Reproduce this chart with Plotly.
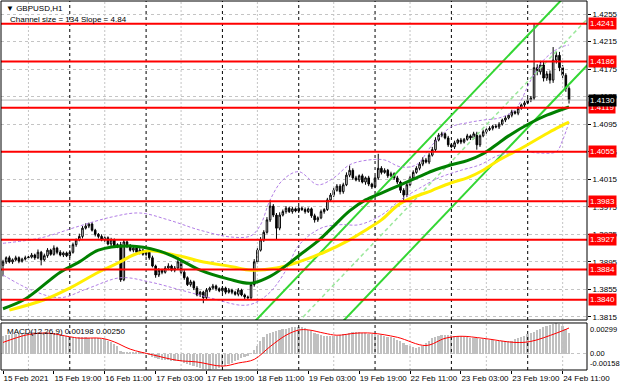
import pandas as pd
import plotly.graph_objects as go

# ---------------- data ----------------
symbol_title = "\u25bc GBPUSD,H1"
channel_text = "Channel size = 134 Slope = 4.84"
macd_title = "MACD(12,26,9) 0.00198 0.00250"

trading_days = ["2021-02-15", "2021-02-16", "2021-02-17", "2021-02-18", "2021-02-19",
                "2021-02-22", "2021-02-23", "2021-02-24"]
first_bar = "2021-02-15 03:00"
last_bar = "2021-02-24 13:00"

first_open = 1.3890
close = [
    1.3895, 1.3901, 1.3895, 1.3898, 1.3901, 1.3896, 1.3899, 1.3901, 1.3902, 1.3905,
    1.3901, 1.3909, 1.3898, 1.3904, 1.3912, 1.3906, 1.3915, 1.3909, 1.3905, 1.3908,
    1.3904, 1.3909, 1.3920, 1.3927, 1.3932, 1.3944, 1.3947, 1.3950, 1.3941, 1.3935,
    1.3932, 1.3927, 1.3930, 1.3921, 1.3927, 1.3918, 1.3920, 1.3869, 1.3924, 1.3918,
    1.3912, 1.3915, 1.3909, 1.3912, 1.3906, 1.3909, 1.3901, 1.3889, 1.3876, 1.3883,
    1.3880, 1.3886, 1.3889, 1.3883, 1.3886, 1.3895, 1.3880, 1.3872, 1.3862, 1.3866,
    1.3857, 1.3847, 1.3851, 1.3843, 1.3854, 1.3857, 1.3860, 1.3856, 1.3853, 1.3857,
    1.3851, 1.3854, 1.3851, 1.3848, 1.3854, 1.3847, 1.3844, 1.3843, 1.3862, 1.3895,
    1.3912, 1.3927, 1.3938, 1.3956, 1.3976, 1.3963, 1.3944, 1.3963, 1.3968, 1.3973,
    1.3968, 1.3972, 1.3969, 1.3973, 1.3971, 1.3968, 1.3972, 1.3962, 1.3956, 1.3959,
    1.3968, 1.3971, 1.3985, 1.3992, 1.3999, 1.4005, 1.3997, 1.4007, 1.4021, 1.4028,
    1.4017, 1.4014, 1.4020, 1.4011, 1.4017, 1.4008, 1.4004, 1.4017, 1.4031, 1.4025,
    1.4028, 1.4020, 1.4023, 1.4017, 1.4011, 1.3999, 1.3992, 1.4007, 1.4017, 1.4025,
    1.4031, 1.4037, 1.4043, 1.4040, 1.4050, 1.4058, 1.4072, 1.4079, 1.4081, 1.4075,
    1.4065, 1.4062, 1.4068, 1.4072, 1.4069, 1.4073, 1.4078, 1.4075, 1.4081, 1.4065,
    1.4078, 1.4084, 1.4087, 1.4089, 1.4092, 1.4091, 1.4095, 1.4101, 1.4104, 1.4108,
    1.4113, 1.4111, 1.4118, 1.4123, 1.4126, 1.4130, 1.4133, 1.4177, 1.4171, 1.4181,
    1.4162, 1.4168, 1.4159, 1.4188, 1.4195, 1.4177, 1.4166, 1.4147, 1.4130,
]
# wick lengths in pips beyond the candle body
upper_wick_pips = [
    3, 2, 3, 2, 3, 2, 2, 3, 2, 3,
    2, 4, 2, 3, 3, 2, 4, 2, 3, 2,
    2, 3, 3, 2, 4, 3, 4, 2, 3, 2,
    2, 3, 2, 2, 3, 2, 2, 4, 3, 2,
    3, 2, 2, 3, 2, 3, 2, 3, 2, 3,
    2, 3, 4, 2, 3, 7, 2, 3, 2, 3,
    2, 3, 2, 2, 3, 2, 3, 2, 2, 3,
    2, 3, 2, 2, 3, 2, 2, 2, 3, 4,
    3, 4, 3, 4, 9, 3, 3, 4, 3, 3,
    2, 3, 2, 3, 2, 3, 2, 2, 3, 2,
    3, 2, 3, 3, 4, 3, 3, 3, 4, 7,
    3, 3, 2, 3, 2, 3, 2, 3, 21, 3,
    3, 2, 3, 2, 3, 2, 3, 4, 3, 3,
    3, 3, 4, 3, 3, 4, 4, 3, 3, 2,
    3, 2, 3, 2, 3, 2, 3, 2, 3, 3,
    2, 3, 2, 3, 2, 3, 3, 2, 3, 2,
    3, 2, 3, 2, 3, 3, 3, 65, 5, 6,
    5, 4, 5, 19, 6, 5, 4, 3, 3,
]
lower_wick_pips = [
    16, 3, 2, 3, 2, 3, 2, 2, 3, 2,
    3, 2, 8, 2, 3, 2, 2, 3, 2, 3,
    2, 3, 2, 3, 2, 3, 2, 3, 2, 3,
    3, 2, 3, 2, 3, 2, 3, 3, 2, 3,
    2, 3, 2, 3, 2, 3, 3, 2, 4, 3,
    3, 2, 3, 2, 3, 2, 3, 3, 2, 3,
    3, 2, 3, 8, 2, 3, 2, 3, 2, 3,
    3, 2, 3, 2, 3, 2, 3, 3, 2, 3,
    3, 2, 3, 2, 3, 3, 17, 3, 2, 3,
    2, 3, 2, 3, 2, 3, 2, 3, 4, 3,
    2, 3, 2, 3, 3, 2, 4, 3, 2, 3,
    3, 2, 3, 2, 4, 3, 3, 2, 3, 3,
    2, 3, 2, 3, 3, 4, 7, 3, 2, 3,
    2, 3, 3, 2, 3, 2, 3, 2, 3, 2,
    3, 2, 3, 2, 3, 2, 2, 3, 2, 7,
    3, 2, 3, 2, 3, 2, 3, 2, 3, 2,
    3, 2, 3, 2, 3, 2, 3, 3, 5, 4,
    5, 4, 5, 4, 5, 5, 4, 5, 5,
]

# moving averages (bar index, price)
green_ma_idx = [0, 7, 18, 24, 30, 40, 49, 54, 62, 71, 78, 84, 90, 93, 99, 104, 109, 114, 119,
                125, 130, 135, 141, 146, 151, 156, 159, 166, 171, 178]
green_ma_val = [1.3827, 1.3841, 1.3880, 1.3895, 1.3912, 1.3918, 1.3911, 1.3902, 1.3883, 1.3870,
                1.3864, 1.3874, 1.3893, 1.3904, 1.3925, 1.3947, 1.3969, 1.3985, 1.3995, 1.4007,
                1.4017, 1.4027, 1.4036, 1.4042, 1.4052, 1.4068, 1.4078, 1.4097, 1.4108, 1.4120]
yellow_ma_idx = [2, 13, 21, 30, 36, 41, 46, 52, 57, 62, 72, 78, 86, 93, 101, 109, 114, 119, 125,
                 135, 141, 146, 151, 156, 163, 169, 174, 178]
yellow_ma_val = [1.3825, 1.3840, 1.3857, 1.3880, 1.3893, 1.3905, 1.3911, 1.3907, 1.3902, 1.3896,
                 1.3888, 1.3883, 1.3886, 1.3895, 1.3909, 1.3927, 1.3941, 1.3956, 1.3980, 1.3999,
                 1.4010, 1.4017, 1.4028, 1.4043, 1.4060, 1.4076, 1.4089, 1.4098]

# envelope bands (bar index, price)
band_up_idx = [0, 12, 24, 34, 43, 52, 62, 72, 78, 81, 84, 88, 93, 99, 104, 109, 115, 120, 125,
               130, 135, 141, 146, 151, 156, 161, 166, 170, 175, 178]
band_up_val = [1.3922, 1.3930, 1.3947, 1.3960, 1.3966, 1.3956, 1.3941, 1.3931, 1.3933, 1.3949,
               1.3985, 1.4014, 1.4026, 1.4007, 1.4017, 1.4036, 1.4043, 1.4043, 1.4033, 1.4036,
               1.4065, 1.4091, 1.4097, 1.4101, 1.4104, 1.4116, 1.4159, 1.4188, 1.4206, 1.4210]
band_dn_idx = [0, 9, 18, 27, 37, 46, 56, 65, 75, 79, 84, 89, 93, 100, 106, 112, 119, 125, 131,
               137, 144, 150, 156, 163, 169, 174, 176, 178]
band_dn_val = [1.3876, 1.3854, 1.3843, 1.3857, 1.3872, 1.3866, 1.3854, 1.3843, 1.3832, 1.3835,
               1.3851, 1.3883, 1.3919, 1.3944, 1.3949, 1.3949, 1.3963, 1.3985, 1.4002, 1.4017,
               1.4028, 1.4036, 1.4050, 1.4055, 1.4053, 1.4055, 1.4072, 1.4098]

# regression channel (end points)
chan_idx = [70, 184]
chan_lower = [1.3630, 1.4182]
chan_mid = [1.3697, 1.4249]
chan_upper = [1.3764, 1.4316]

# support / resistance levels
levels = [1.4241, 1.4186, 1.4119, 1.4055, 1.3983, 1.3927, 1.3884, 1.3840]
price_ticks = [1.4255, 1.4215, 1.4175, 1.4135, 1.4095, 1.4055, 1.4015, 1.3975, 1.3935,
               1.3895, 1.3855, 1.3815]

# MACD main (histogram) in 1e-5 units
macd_hist_e5 = [
    170, 180, 185, 190, 195, 198, 200, 202,
    205, 208, 210, 210, 212, 210, 208, 205,
    200, 195, 188, 180, 172, 165,
    160, 158, 160, 162, 160, 158, 155, 152, 150, 148,
    140, 125, 110, 95, 80,
    30, 20, 15,
    12, 15, 18, 15, 10, 5,
    -15, -30, -45, -55, -60,
    -62, -65, -70, -72, -70, -75, -85, -95,
    -105, -115, -125, -135, -145, -150, -158, -150,
    -145, -135, -125, -115, -100, -90,
    -75, -60, -45, -30, -20,
    5, 40, 80, 120, 160,
    190, 205, 215, 222, 230, 238, 245,
    252, 258, 262, 265, 262, 250,
    235, 220, 205, 190, 180,
    175, 172, 170, 172,
    175, 180, 188, 195, 205, 210,
    212, 210, 205, 200, 195, 190,
    188, 185, 180, 172, 165,
    160, 150, 135, 120, 105, 90,
    75, 65, 60, 62,
    75, 100, 125, 150, 165,
    175, 182, 185, 182, 180,
    175, 172, 168, 165, 160, 158, 155,
    150, 148, 145, 140, 135, 130, 128,
    125, 122, 120, 122, 128,
    140, 150, 160, 175,
    190, 200, 215, 230, 245,
    258, 270, 282, 292, 299,
    290, 268, 240, 198,
]
signal_idx = [0, 7, 12, 15, 21, 24, 31, 35, 40, 47, 55, 61, 69, 74, 79, 84, 89, 93, 96, 101,
              105, 111, 116, 124, 133, 139, 144, 151, 161, 166, 174, 178]
signal_e5 = [110, 180, 200, 198, 165, 152, 150, 115, 45, -10, -65, -80, -120, -90, -55, 70,
             180, 230, 232, 200, 180, 200, 200, 160, 80, 150, 170, 150, 110, 120, 200, 250]
macd_max, macd_min = 0.00299, -0.00158

tick_times = ["2021-02-15 03:00", "2021-02-15 19:00", "2021-02-16 11:00", "2021-02-17 03:00",
              "2021-02-17 19:00", "2021-02-18 11:00", "2021-02-19 03:00", "2021-02-19 19:00",
              "2021-02-22 11:00", "2021-02-23 03:00", "2021-02-23 19:00", "2021-02-24 11:00"]
tick_labels = ["15 Feb 2021", "15 Feb 19:00", "16 Feb 11:00", "17 Feb 03:00", "17 Feb 19:00",
               "18 Feb 11:00", "19 Feb 03:00", "19 Feb 19:00", "22 Feb 11:00", "23 Feb 03:00",
               "23 Feb 19:00", "24 Feb 11:00"]

# ---------------- derived ----------------
times = [t for d in trading_days for t in pd.date_range(d, periods=24, freq="h")]
times = [t for t in times if pd.Timestamp(first_bar) <= t <= pd.Timestamp(last_bar)]
n = len(close)
idx = list(range(n))
opens = [first_open] + close[:-1]
highs = [max(o, c) + u * 1e-4 for o, c, u in zip(opens, close, upper_wick_pips)]
lows = [min(o, c) - d * 1e-4 for o, c, d in zip(opens, close, lower_wick_pips)]
macd_hist = [v * 1e-5 for v in macd_hist_e5]
signal = [v * 1e-5 for v in signal_e5]
tick_idx = [times.index(pd.Timestamp(t)) for t in tick_times]
day_starts = [i for i, t in enumerate(times) if t.hour == 0]
grid_idx = [i for i, t in enumerate(times) if t.hour == 11]

# ---------------- figure ----------------
FONT = "Liberation Sans, Arial, sans-serif"
W, H = 620, 388
PRICE_RANGE = [1.38106, 1.42739]
MACD_RANGE = [macd_min, macd_max]
fig = go.Figure()


def vlines(xs, yrange, color, dash, xa, ya):
    xx, yy = [], []
    for v in xs:
        xx += [v, v, None]
        yy += [yrange[0], yrange[1], None]
    fig.add_trace(go.Scatter(x=xx, y=yy, mode="lines", hoverinfo="skip",
                             line=dict(color=color, width=1, dash=dash), xaxis=xa, yaxis=ya))


# grid + day separators (behind everything)
vlines(grid_idx, PRICE_RANGE, "#C4C4C4", "2px,2px", "x", "y")
vlines(grid_idx, MACD_RANGE, "#C4C4C4", "2px,2px", "x2", "y2")
vlines(day_starts, PRICE_RANGE, "#000000", "3px,3px", "x", "y")
vlines(day_starts, MACD_RANGE, "#000000", "3px,3px", "x2", "y2")

# bid line
fig.add_trace(go.Scatter(x=[-1, n + 10], y=[close[-1], close[-1]], mode="lines", hoverinfo="skip",
                         line=dict(color="#B8B8B8", width=1), xaxis="x", yaxis="y"))

# channel
fig.add_trace(go.Scatter(x=chan_idx, y=chan_upper, mode="lines",
                         line=dict(color="#33D633", width=2), xaxis="x", yaxis="y"))
fig.add_trace(go.Scatter(x=chan_idx, y=chan_mid, mode="lines",
                         line=dict(color="#9BE89B", width=1.5, dash="4px,3px"), xaxis="x", yaxis="y"))
fig.add_trace(go.Scatter(x=chan_idx, y=chan_lower, mode="lines",
                         line=dict(color="#33D633", width=2), xaxis="x", yaxis="y"))
# bands
for bi, bv in ((band_up_idx, band_up_val), (band_dn_idx, band_dn_val)):
    fig.add_trace(go.Scatter(x=bi, y=bv, mode="lines", line_shape="spline",
                             line=dict(color="#B27EE6", width=1, dash="3px,2px"),
                             xaxis="x", yaxis="y"))
# MAs
fig.add_trace(go.Scatter(x=yellow_ma_idx, y=yellow_ma_val, mode="lines", line_shape="spline",
                         line=dict(color="#FFEE00", width=3), xaxis="x", yaxis="y"))
fig.add_trace(go.Scatter(x=green_ma_idx, y=green_ma_val, mode="lines", line_shape="spline",
                         line=dict(color="#008000", width=3), xaxis="x", yaxis="y"))
# candles
fig.add_trace(go.Candlestick(
    x=idx, open=opens, high=highs, low=lows, close=close, xaxis="x", yaxis="y",
    increasing=dict(fillcolor="#FFFFFF", line=dict(color="#000000", width=1)),
    decreasing=dict(fillcolor="#000000", line=dict(color="#000000", width=1)),
    whiskerwidth=0,
))

# MACD
fig.add_trace(go.Bar(x=idx, y=macd_hist, marker=dict(color="#C0C0C0", line=dict(width=0)),
                     width=0.55, xaxis="x2", yaxis="y2"))
fig.add_trace(go.Scatter(x=signal_idx, y=signal, mode="lines", line_shape="spline",
                         line=dict(color="#FF0000", width=1), xaxis="x2", yaxis="y2"))

shapes = []
for lv in levels:
    shapes.append(dict(type="line", xref="paper", yref="y", x0=0, x1=1, y0=lv, y1=lv,
                       line=dict(color="#FF0000", width=2)))
shapes.append(dict(type="rect", xref="paper", yref="y domain", x0=0, x1=1, y0=0, y1=1,
                   line=dict(color="#000000", width=1)))
shapes.append(dict(type="rect", xref="paper", yref="y2 domain", x0=0, x1=1, y0=0, y1=1,
                   line=dict(color="#000000", width=1)))

annotations = []
for lv in levels:
    annotations.append(dict(xref="paper", yref="y", x=1, y=lv, xanchor="left", yanchor="middle",
                            xshift=1, text=f"{lv:.4f}", showarrow=False, bgcolor="#FF0000",
                            font=dict(color="#FFFFFF", size=8, family=FONT), borderpad=1))
annotations.append(dict(xref="paper", yref="y", x=1, y=close[-1], xanchor="left", yanchor="middle",
                        xshift=1, text=f"{close[-1]:.4f}", showarrow=False, bgcolor="#000000",
                        font=dict(color="#FFFFFF", size=8, family=FONT), borderpad=1))
annotations.append(dict(xref="paper", yref="paper", x=0, y=1, xanchor="left", yanchor="top",
                        xshift=3, yshift=-1, text=symbol_title, showarrow=False, align="left",
                        font=dict(color="#000000", size=8, family=FONT)))
annotations.append(dict(xref="paper", yref="paper", x=0, y=1, xanchor="left", yanchor="top",
                        xshift=7, yshift=-12, text=channel_text, showarrow=False, align="left",
                        font=dict(color="#000000", size=8, family=FONT)))
annotations.append(dict(xref="paper", yref="y2 domain", x=0, y=1, xanchor="left", yanchor="top",
                        xshift=4, yshift=-2, text=macd_title, showarrow=False,
                        font=dict(color="#000000", size=8, family=FONT)))
for val, txt, anc in ((macd_max, f"{macd_max:.5f}", "top"), (0.0, "0.00", "middle"),
                      (macd_min, f"{macd_min:.5f}", "bottom")):
    annotations.append(dict(xref="paper", yref="y2", x=1, y=val, xanchor="left", yanchor=anc,
                            xshift=1, text=txt, showarrow=False,
                            font=dict(color="#000000", size=7.5, family=FONT)))

xr = [-0.63, 183.65]
fig.update_layout(
    width=W, height=H, paper_bgcolor="#FFFFFF", plot_bgcolor="#FFFFFF",
    margin=dict(l=1, r=33, t=1, b=18, autoexpand=False), showlegend=False, bargap=0,
    font=dict(family=FONT, size=8, color="#000000"),
    shapes=shapes, annotations=annotations,
    xaxis=dict(domain=[0, 1], anchor="y", range=xr, showticklabels=False, showgrid=False,
               zeroline=False, rangeslider=dict(visible=False), fixedrange=True),
    xaxis2=dict(domain=[0, 1], anchor="y2", range=xr, matches="x", showgrid=False, zeroline=False,
                tickvals=tick_idx, ticktext=tick_labels, ticks="outside", ticklen=3,
                tickangle=0, automargin=False,
                tickcolor="#000000", ticklabelposition="outside right",
                tickfont=dict(size=8, family=FONT, color="#000000"),
                rangeslider=dict(visible=False)),
    yaxis=dict(domain=[0.1355, 1], anchor="x", side="right", range=PRICE_RANGE,
               tickvals=price_ticks, ticktext=[f"{p:.4f}" for p in price_ticks],
               ticks="outside", ticklen=3, tickcolor="#000000", automargin=False,
               showgrid=True, gridcolor="#C4C4C4", griddash="dot", gridwidth=1,
               zeroline=False, tickfont=dict(size=8, family=FONT, color="#000000")),
    yaxis2=dict(domain=[0, 0.1274], anchor="x2", side="right", range=MACD_RANGE,
                tickvals=[0], showticklabels=False, ticks="", showgrid=True, automargin=False,
                gridcolor="#C4C4C4", griddash="dot", zeroline=False),
)

fig.write_html("out.html", config={"displayModeBar": False},
               post_script="document.body.style.margin='0px';"
               "document.body.style.overflow='hidden';")
